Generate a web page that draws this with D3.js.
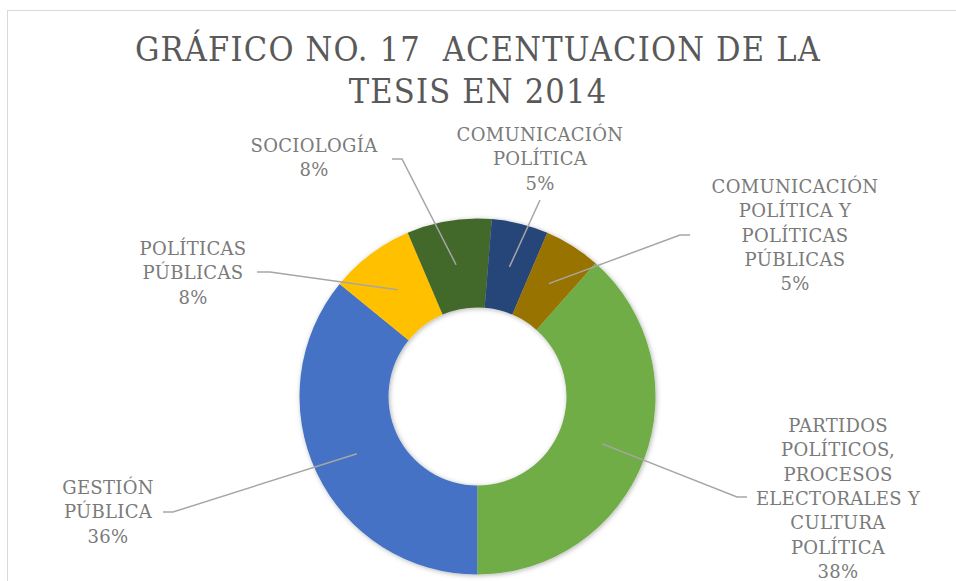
<!DOCTYPE html>
<html lang="es">
<head>
<meta charset="utf-8">
<title>Gráfico No. 17</title>
<script src="https://cdn.jsdelivr.net/npm/d3@7"></script>
<style>
  body { margin: 0; background: #fff; }
  svg { display: block; }
</style>
</head>
<body>
<script>
// data, clockwise starting at 6 o'clock
var categories = ["GESTIÓN PÚBLICA", "POLÍTICAS PÚBLICAS", "SOCIOLOGÍA", "COMUNICACIÓN POLÍTICA",
                  "COMUNICACIÓN POLÍTICA Y POLÍTICAS PÚBLICAS",
                  "PARTIDOS POLÍTICOS, PROCESOS ELECTORALES Y CULTURA POLÍTICA"];
var values = [14, 3, 3, 2, 2, 15];
var labelLines = [
  ["GESTIÓN", "PÚBLICA"],
  ["POLÍTICAS", "PÚBLICAS"],
  ["SOCIOLOGÍA"],
  ["COMUNICACIÓN", "POLÍTICA"],
  ["COMUNICACIÓN", "POLÍTICA Y", "POLÍTICAS", "PÚBLICAS"],
  ["PARTIDOS", "POLÍTICOS,", "PROCESOS", "ELECTORALES Y", "CULTURA", "POLÍTICA"]
];
var colors = ["#4472C4", "#FFC000", "#43682B", "#264478", "#997300", "#70AD47"];

// label layout (text centre x, first baseline y, leader attach point, elbow)
var labelLayout = [
  { x: 108, y: 494, a: [163, 512], e: [173, 512] },
  { x: 193, y: 255, a: [257, 272], e: [270, 272] },
  { x: 314, y: 152, a: [392, 159], e: [402, 159] },
  { x: 540, y: 141, a: [540, 200], e: null },
  { x: 795, y: 193, a: [690, 235], e: [680, 235] },
  { x: 838, y: 432, a: [747, 497], e: [737, 497] }
];

var w = 956, h = 581;
var cx = 477.5, cy = 396.5, rOuter = 178, rInner = 89;
var lineH = 24.3;

var svg = d3.select("body").append("svg")
  .attr("width", w)
  .attr("height", h);

var defs = svg.append("defs");
var f = defs.append("filter").attr("id", "shadow")
  .attr("x", "-10%").attr("y", "-10%").attr("width", "120%").attr("height", "120%");
f.append("feDropShadow")
  .attr("dx", 1).attr("dy", 1).attr("stdDeviation", 2.5)
  .attr("flood-color", "#000").attr("flood-opacity", 0.3);

// chart border
svg.append("rect")
  .attr("x", 7.5).attr("y", 10.5)
  .attr("width", 1000).attr("height", 700)
  .attr("fill", "#fff")
  .attr("stroke", "#d9d9d9");

// title
var title = svg.append("text")
  .style("font-family", "'DejaVu Serif Condensed', 'DejaVu Serif', serif")
  .style("font-stretch", "condensed")
  .attr("fill", "#595959")
  .attr("text-anchor", "middle")
  .attr("font-size", "34px")
  .attr("letter-spacing", "1.2px");
title.append("tspan").attr("x", w / 2).attr("y", 61).attr("xml:space", "preserve").text("GRÁFICO NO. 17  ACENTUACION DE LA");
title.append("tspan").attr("x", w / 2).attr("y", 103).text("TESIS EN 2014");

var total = d3.sum(values);
var pie = d3.pie().sort(null).startAngle(Math.PI).endAngle(3 * Math.PI);
var arcs = pie(values);

var arc = d3.arc().innerRadius(rInner).outerRadius(rOuter);
var midArc = d3.arc().innerRadius((rInner + rOuter) / 2).outerRadius((rInner + rOuter) / 2);

var g = svg.append("g").attr("transform", "translate(" + cx + "," + cy + ")");

g.append("g").attr("filter", "url(#shadow)")
  .selectAll("path")
  .data(arcs)
  .enter()
  .append("path")
  .attr("d", arc)
  .attr("fill", function(d, i) { return colors[i]; });

// leader lines
svg.selectAll("polyline.leader")
  .data(arcs)
  .enter()
  .append("polyline")
  .attr("class", "leader")
  .attr("fill", "none")
  .attr("stroke", "#a6a6a6")
  .attr("stroke-width", 1.5)
  .attr("points", function(d, i) {
    var c = midArc.centroid(d);
    var L = labelLayout[i];
    var pts = [L.a];
    if (L.e) pts.push(L.e);
    pts.push([cx + c[0], cy + c[1]]);
    return pts.map(function(p) { return p.join(","); }).join(" ");
  });

// labels
var labels = svg.selectAll("text.lbl")
  .data(arcs)
  .enter()
  .append("text")
  .attr("class", "lbl")
  .style("font-family", "'DejaVu Serif', serif")
  .attr("fill", "#7a7a7a")
  .attr("text-anchor", "middle")
  .attr("font-size", "18px")
  .attr("letter-spacing", "0.3px");

labels.each(function(d, i) {
  var t = d3.select(this);
  var L = labelLayout[i];
  var lines = labelLines[i].concat([Math.round(values[i] / total * 100) + "%"]);
  lines.forEach(function(s, j) {
    t.append("tspan").attr("x", L.x).attr("y", L.y + j * lineH).text(s);
  });
});
</script>
</body>
</html>
